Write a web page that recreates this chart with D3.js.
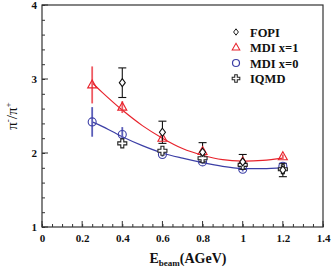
<!DOCTYPE html>
<html>
<head>
<meta charset="utf-8">
<script src="https://cdn.jsdelivr.net/npm/d3@7"></script>
<style>
  body { margin: 0; background: #fff; }
  svg { display: block; font-family: "Liberation Serif", "DejaVu Serif", serif; }
</style>
</head>
<body>
<svg id="chart" width="332" height="270"></svg>
<script>
// beam energies (AGeV)
const energies = [0.25, 0.4, 0.6, 0.8, 1.0, 1.2];

// FOPI data (no point at 0.25)
const fopiX = [0.4, 0.6, 0.8, 1.0, 1.2];
const fopiY = [2.95, 2.28, 2.01, 1.88, 1.77];
const fopiErr = [0.2, 0.15, 0.13, 0.1, 0.09];

// MDI x=1 (red)
const mdi1Y = [2.92, 2.62, 2.2, 2.02, 1.88, 1.95];
const mdi1Err = [0.25, 0.08, 0.04, 0.04, 0.04, 0.03];

// MDI x=0 (blue)
const mdi0Y = [2.42, 2.25, 1.98, 1.88, 1.78, 1.82];
const mdi0Err = [0.2, 0.1, 0.03, 0.03, 0.03, 0.03];

// IQMD
const iqmdX = [0.4, 0.6, 0.8, 1.0, 1.2];
const iqmdY = [2.13, 2.03, 1.93, 1.84, 1.78];

// fit curves
const fitX = [0.25, 0.3, 0.4, 0.5, 0.6, 0.7, 0.8, 0.9, 1.0, 1.1, 1.2];
const fitRed = [2.95, 2.82, 2.58, 2.37, 2.2, 2.06, 1.97, 1.91, 1.89, 1.9, 1.93];
const fitBlue = [2.42, 2.36, 2.22, 2.1, 2.0, 1.93, 1.87, 1.82, 1.79, 1.79, 1.8];

const xTicks = [0, 0.2, 0.4, 0.6, 0.8, 1, 1.2, 1.4];
const yTicks = [1, 2, 3, 4];
const legendLabels = ["FOPI", "MDI x=1", "MDI x=0", "IQMD"];

const red = "#e8232c", blue = "#3c3fa6";

const svg = d3.select("#chart");
const margin = {top: 5, right: 9, bottom: 43, left: 42};
const width = 332 - margin.left - margin.right,
      height = 270 - margin.top - margin.bottom;

const x = d3.scaleLinear().domain([0, 1.4]).range([0, width]);
const y = d3.scaleLinear().domain([1, 4]).range([height, 0]);

const g = svg.append("g").attr("transform", "translate(" + margin.left + "," + margin.top + ")");

// frame
g.append("rect").attr("width", width).attr("height", height)
  .attr("fill", "none").attr("stroke", "#333").attr("stroke-width", 1.2);

// minor ticks (inward)
g.append("g").attr("transform", "translate(0," + height + ")")
  .call(d3.axisTop(x).tickValues(d3.range(0, 1.401, 0.05)).tickSize(3).tickFormat(""))
  .call(a => a.select(".domain").remove())
  .selectAll("line").attr("stroke", "#333");
g.append("g")
  .call(d3.axisRight(y).tickValues(d3.range(1, 4.001, 0.2)).tickSize(3).tickFormat(""))
  .call(a => a.select(".domain").remove())
  .selectAll("line").attr("stroke", "#333");

// major ticks + labels
const xa = g.append("g").attr("transform", "translate(0," + height + ")")
  .call(d3.axisBottom(x).tickValues(xTicks).tickSize(0).tickPadding(7).tickFormat(d => d3.format("")(d)));
xa.select(".domain").remove();
xa.selectAll("text").attr("font-size", 11).attr("font-weight", "bold").attr("font-family", "Liberation Serif").attr("fill", "#111");
g.append("g").selectAll("line").data(xTicks).join("line")
  .attr("x1", d => x(d)).attr("x2", d => x(d)).attr("y1", height).attr("y2", height - 6)
  .attr("stroke", "#333");

const ya = g.append("g")
  .call(d3.axisLeft(y).tickValues(yTicks).tickSize(0).tickPadding(5).tickFormat(d3.format("d")));
ya.select(".domain").remove();
ya.selectAll("text").attr("font-size", 11).attr("font-weight", "bold").attr("font-family", "Liberation Serif").attr("fill", "#111");
g.append("g").selectAll("line").data(yTicks).join("line")
  .attr("x1", 0).attr("x2", 6).attr("y1", d => y(d)).attr("y2", d => y(d))
  .attr("stroke", "#333");

// axis titles
const xt = svg.append("text").attr("x", 188).attr("y", 263).attr("text-anchor", "middle")
  .attr("font-size", 14).attr("font-weight", "bold").attr("fill", "#111");
xt.append("tspan").text("E");
xt.append("tspan").attr("font-size", 9).attr("dy", 3).text("beam");
xt.append("tspan").attr("dy", -3).text("(AGeV)");

const yt = svg.append("text").attr("transform", "translate(17,116) rotate(-90)")
  .attr("text-anchor", "middle").attr("font-size", 15).attr("fill", "#111");
yt.append("tspan").text("π");
yt.append("tspan").attr("font-size", 9).attr("dy", -6).text("-");
yt.append("tspan").attr("dy", 6).text("/π");
yt.append("tspan").attr("font-size", 9).attr("dy", -6).text("+");

// fit curves
const line = d3.line().x(d => x(d[0])).y(d => y(d[1])).curve(d3.curveCatmullRom);
g.append("path").datum(d3.zip(fitX, fitRed)).attr("d", line)
  .attr("fill", "none").attr("stroke", red).attr("stroke-width", 1.2);
g.append("path").datum(d3.zip(fitX, fitBlue)).attr("d", line)
  .attr("fill", "none").attr("stroke", blue).attr("stroke-width", 1.2);

// markers
const diamond = "M0,-4L3,0L0,4L-3,0Z";
const triangle = "M0,-5L4.5,3L-4.5,3Z";
const cross = "M-1.5,-4.5H1.5V-1.5H4.5V1.5H1.5V4.5H-1.5V1.5H-4.5V-1.5H-1.5Z";

function errBars(xs, ys, es, color, width, caps) {
  const e = g.append("g").attr("stroke", color).attr("stroke-width", width);
  e.selectAll("line.v").data(xs).join("line").attr("class", "v")
    .attr("x1", (d, i) => x(d)).attr("x2", (d, i) => x(d))
    .attr("y1", (d, i) => y(ys[i] - es[i])).attr("y2", (d, i) => y(ys[i] + es[i]));
  if (caps) {
    [1, -1].forEach(s => {
      e.selectAll("line.c" + (s > 0 ? "p" : "m")).data(xs).join("line").attr("class", "c" + (s > 0 ? "p" : "m"))
        .attr("x1", d => x(d) - 4).attr("x2", d => x(d) + 4)
        .attr("y1", (d, i) => y(ys[i] + s * es[i])).attr("y2", (d, i) => y(ys[i] + s * es[i]));
    });
  }
}

errBars(energies, mdi1Y, mdi1Err, "#ef5a62", 1.8, false);
errBars(energies, mdi0Y, mdi0Err, "#5a5db8", 1.8, false);
errBars(fopiX, fopiY, fopiErr, "#111", 1.1, true);

g.append("g").selectAll("path").data(energies).join("path")
  .attr("d", triangle).attr("transform", (d, i) => "translate(" + x(d) + "," + y(mdi1Y[i]) + ")")
  .attr("fill", "none").attr("stroke", red).attr("stroke-width", 1.1);
g.append("g").selectAll("circle").data(energies).join("circle")
  .attr("cx", d => x(d)).attr("cy", (d, i) => y(mdi0Y[i])).attr("r", 4)
  .attr("fill", "none").attr("stroke", blue).attr("stroke-width", 1.1);
g.append("g").selectAll("path").data(iqmdX).join("path")
  .attr("d", cross).attr("transform", (d, i) => "translate(" + x(d) + "," + y(iqmdY[i]) + ")")
  .attr("fill", "#fff").attr("stroke", "#222").attr("stroke-width", 1.1);
g.append("g").selectAll("path").data(fopiX).join("path")
  .attr("d", diamond).attr("transform", (d, i) => "translate(" + x(d) + "," + y(fopiY[i]) + ")")
  .attr("fill", "#fff").attr("stroke", "#111").attr("stroke-width", 1.1);

// legend
const leg = svg.append("g").attr("transform", "translate(236,32)");
const legShapes = [
  {d: diamond, color: "#111", scale: 0.8},
  {d: triangle, color: red, scale: 0.85},
  {d: null, color: blue},
  {d: cross, color: "#222", scale: 0.85}
];
legendLabels.forEach((lab, i) => {
  const row = leg.append("g").attr("transform", "translate(0," + (i * 15.5) + ")");
  if (legShapes[i].d) {
    row.append("path").attr("d", legShapes[i].d).attr("transform", "scale(" + legShapes[i].scale + ")")
      .attr("fill", "none").attr("stroke", legShapes[i].color).attr("stroke-width", 1.2);
  } else {
    row.append("circle").attr("r", 3.5).attr("fill", "none").attr("stroke", blue).attr("stroke-width", 1.2);
  }
  row.append("text").attr("x", 14).attr("y", 4.5).attr("font-size", 12.5).attr("font-weight", "bold")
    .attr("fill", "#111").text(lab);
});
</script>
</body>
</html>
